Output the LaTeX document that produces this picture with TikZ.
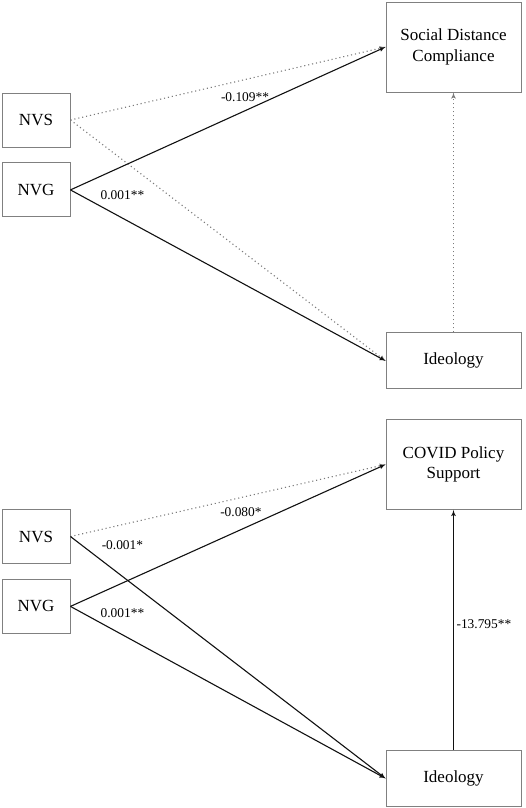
\documentclass[tikz,border=0pt]{standalone}
\usepackage{fontspec}
\setmainfont{Liberation Serif}
\usepackage{tikz}
\usetikzlibrary{arrows, positioning}
\definecolor{BoxGrey}{HTML}{808080}
\definecolor{DotGrey}{HTML}{7A7A7A}
\definecolor{PathBlack}{HTML}{111111}

\begin{document}
\begin{tikzpicture}[x=1pt, y=-1pt, >=latex', every node/.style={transform shape}]
    \tikzstyle{block} = [rectangle, draw=BoxGrey, line width=0.9pt, align=center, inner sep=0pt, font=\fontsize{17}{20.5}\selectfont]
    \tikzstyle{outcome} = [block, minimum width=135pt, minimum height=90pt]
    \tikzstyle{mediator} = [block, minimum width=135pt, minimum height=56pt]
    \tikzstyle{predictor} = [block, minimum width=68pt, minimum height=54pt]
    \tikzstyle{line} = [draw, ->, line width=1.1pt, PathBlack]
    \tikzstyle{dotline} = [draw, ->, line width=1.1pt, DotGrey, dash pattern=on 1.1pt off 2.9pt]
    \tikzstyle{coef} = [inner sep=0pt, text=black, font=\fontsize{13.4}{16}\selectfont]

    \useasboundingbox (0,0) rectangle (526,808);

    % top model: social distance compliance
    \node [outcome] (sdc) at (453.5,47) {Social Distance\\Compliance};
    \node [mediator, below=240pt of sdc] (ideo1) {Ideology};
    \node [predictor] (nvs1) at (36,120) {NVS};
    \node [predictor, below=15pt of nvs1] (nvg1) {NVG};

    \path [dotline] (nvs1.east) -- (sdc.west);
    \path [dotline] (nvs1.east) -- (ideo1.west);
    \path [dotline] (ideo1.north) -- (sdc.south);
    \path [line] (nvg1.east) -- node [coef, pos=0.554, above=8.5pt] {-0.109**} (sdc.west);
    \path [line] (nvg1.east) -- node [coef, pos=0.165, above=17.5pt] {0.001**} (ideo1.west);

    % bottom model: covid policy support
    \node [outcome] (cps) at (453.5,464.5) {COVID Policy\\Support};
    \node [mediator, below=240pt of cps] (ideo2) {Ideology};
    \node [predictor] (nvs2) at (36,536.5) {NVS};
    \node [predictor, below=15pt of nvs2] (nvg2) {NVG};

    \path [dotline] (nvs2.east) -- (cps.west);
    \path [line] (nvs2.east) -- node [coef, pos=0.165, above=25.7pt] {-0.001*} (ideo2.west);
    \path [line] (nvg2.east) -- node [coef, pos=0.541, above=12pt] {-0.080*} (cps.west);
    \path [line] (nvg2.east) -- node [coef, pos=0.165, above=17pt] {0.001**} (ideo2.west);
    \path [line] (ideo2.north) -- node [coef, pos=0.525, right=2.5pt] {-13.795**} (cps.south);
\end{tikzpicture}
\end{document}
